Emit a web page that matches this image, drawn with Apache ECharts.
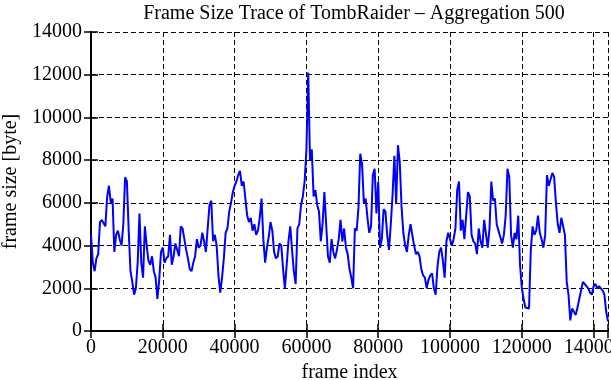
<!DOCTYPE html>
<html>
<head>
<meta charset="utf-8">
<script src="https://cdn.jsdelivr.net/npm/echarts@6/dist/echarts.min.js"></script>
<style>
  html, body { margin: 0; padding: 0; background: #fff; }
  #chart { width: 611px; height: 380px; }
</style>
</head>
<body>
<div id="chart"></div>
<script>
// aggregation step: one point every 500 frames
const frameStep = 500;
// aggregated frame sizes [byte]
const frameSizes = [
  4500, 3200, 2800, 3400, 3600, 5100, 5200, 5200, 4900, 6300,
  6800, 6000, 6200, 3700, 4500, 4700, 4300, 4000, 5000, 7200,
  7000, 4700, 2800, 2300, 1700, 2000, 3200, 5500, 3200, 2500,
  4900, 4000, 3300, 3100, 3500, 2800, 2500, 1500, 2400, 3700,
  3900, 3200, 3400, 3500, 4500, 3100, 3500, 4100, 3800, 3500,
  4900, 4800, 4300, 3800, 3400, 2900, 2800, 3200, 3500, 4300,
  3900, 4000, 4600, 4200, 3700, 4800, 5900, 6100, 4200, 4500,
  4000, 2600, 1800, 2500, 3400, 4600, 4800, 5600, 6000, 6500,
  6800, 7000, 7300, 7500, 6800, 7000, 6200, 5400, 5100, 5300,
  4700, 5000, 4500, 4700, 5300, 6200, 4300, 3200, 3900, 4400,
  5100, 4700, 3700, 3400, 3500, 4100, 4000, 2900, 2000, 2000,
  4200, 4900, 3800, 2800, 2200, 4800, 5000, 5900, 6300, 7000,
  8500, 12100, 8000, 8500, 6300, 6600, 5900, 5600, 4200, 5000,
  6500, 5000, 3500, 3200, 4300, 3700, 3400, 3800, 4300, 5200,
  4200, 4800, 3900, 3600, 2900, 2500, 2000, 4800, 4700, 5800,
  8300, 7800, 6000, 6200, 5300, 4600, 4900, 7300, 7600, 5500,
  7000, 3900, 4300, 5700, 5600, 4500, 3800, 5000, 6400, 8200,
  6000, 8700, 7900, 5800, 4600, 4000, 3700, 4500, 5000, 5000,
  4000, 3600, 3700, 3500, 2900, 2600, 2500, 2000, 2400, 2600,
  2700, 2000, 1700, 3000, 3700, 3900, 3300, 2500, 4200, 4600,
  4600, 4000, 4300, 4800, 6600, 7000, 4700, 5200, 4300, 4300,
  6500, 6300, 4500, 4200, 4100, 3600, 4800, 4200, 3900, 5200,
  5200, 3900, 4800, 7000, 6100, 6200, 5000, 4700, 4400, 4100,
  4500, 5400, 7600, 7200, 4500, 3900, 4600, 4300, 5400, 3100,
  2000, 1500, 1100, 1050, 1050, 3800, 4900, 4500, 4700, 5400,
  4600, 4300, 3900, 4500, 7300, 6800, 6800, 7400, 7200, 6000,
  5000, 4600, 5300, 5300, 4500, 2300, 1700, 500, 1050, 1100,
  750, 1100, 1500, 1900, 2300, 2200, 2100, 2000, 1800, 1700,
  2100, 2200, 2000, 2100, 2000, 1900, 1700, 900, 450
];
const xTicks = [0, 20000, 40000, 60000, 80000, 100000, 120000, 140000];
const yTicks = [0, 2000, 4000, 6000, 8000, 10000, 12000, 14000];

const points = frameSizes.map((v, i) => [i * frameStep, v]);

const font = 'Liberation Serif';
const axisLine = { show: true, lineStyle: { color: '#000', width: 2 } };
const tick = { show: true, inside: true, length: 7, lineStyle: { color: '#000', width: 1.5 } };
const split = { show: true, lineStyle: { color: '#000', width: 1, type: [5, 3] } };

const chart = echarts.init(document.getElementById('chart'), null, { renderer: 'canvas' });
chart.setOption({
  animation: false,
  backgroundColor: '#fff',
  title: {
    text: 'Frame Size Trace of TombRaider \u2013 Aggregation 500',
    left: 349,
    top: -1,
    textAlign: 'center',
    textStyle: { fontFamily: font, fontSize: 20, fontWeight: 'normal', color: '#000' }
  },
  grid: { left: 91, right: 3, top: 32, bottom: 49, outerBoundsMode: 'none' },
  xAxis: [{
    type: 'value',
    min: 0,
    max: 144000,
    interval: 20000,
    name: 'frame index',
    nameLocation: 'middle',
    nameGap: 30,
    nameTextStyle: { fontFamily: font, fontSize: 20, color: '#000' },
    axisLine: axisLine,
    axisTick: tick,
    splitLine: split,
    axisLabel: {
      fontFamily: font, fontSize: 20, color: '#000', margin: 7,
      hideOverlap: false,
      formatter: v => xTicks.includes(v) ? String(v) : ''
    }
  }, {
    type: 'value',
    position: 'top',
    min: 0,
    max: 144000,
    interval: 20000,
    axisLine: axisLine,
    axisTick: tick,
    splitLine: { show: false },
    axisLabel: { show: false }
  }],
  yAxis: [{
    type: 'value',
    min: 0,
    max: 14000,
    interval: 2000,
    name: 'frame size [byte]',
    nameLocation: 'middle',
    nameGap: 68,
    nameTextStyle: { fontFamily: font, fontSize: 20, color: '#000' },
    axisLine: axisLine,
    axisTick: tick,
    splitLine: split,
    axisLabel: {
      fontFamily: font, fontSize: 20, color: '#000', margin: 9,
      formatter: v => yTicks.includes(v) ? String(v) : ''
    }
  }, {
    type: 'value',
    position: 'right',
    min: 0,
    max: 14000,
    interval: 2000,
    axisLine: axisLine,
    axisTick: tick,
    splitLine: { show: false },
    axisLabel: { show: false }
  }],
  series: [{
    type: 'line',
    data: points,
    showSymbol: false,
    symbol: 'none',
    lineStyle: { color: '#0000ff', width: 2 },
    z: 3
  }]
});
</script>
</body>
</html>
